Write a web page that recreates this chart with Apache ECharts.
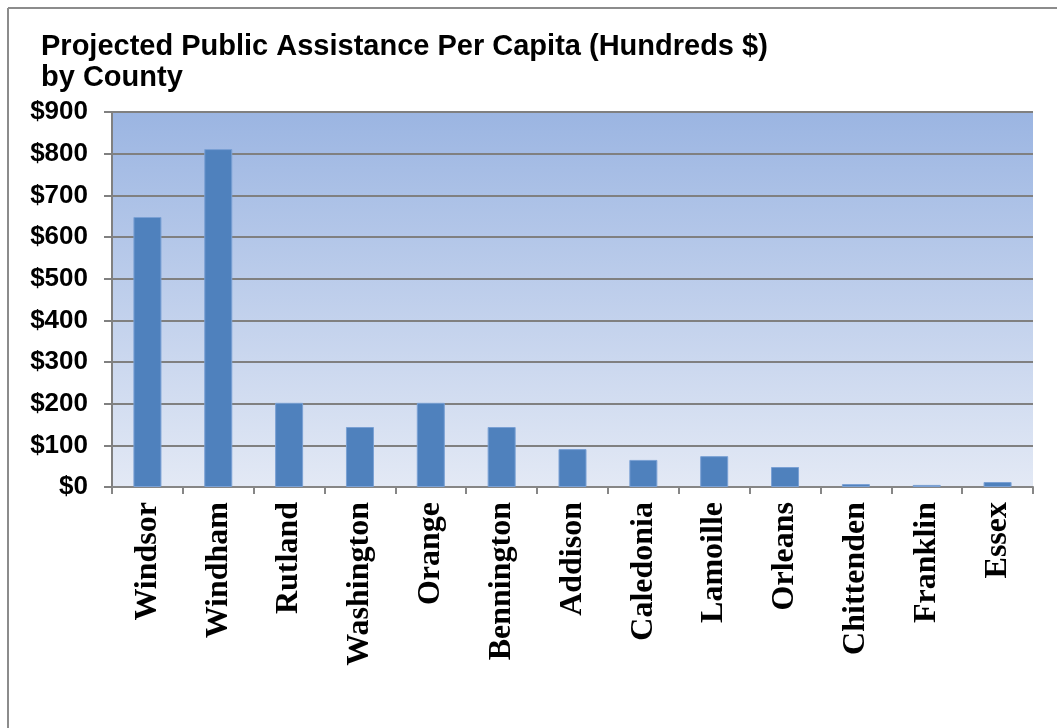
<!DOCTYPE html>
<html>
<head>
<meta charset="utf-8">
<script src="https://cdn.jsdelivr.net/npm/echarts@6/dist/echarts.min.js"></script>
<style>
  html, body { margin: 0; padding: 0; background: #fff; }
  #chart { width: 1057px; height: 728px; }
</style>
</head>
<body>
<div id="chart"></div>
<script>
// county names and projected values (hundreds $)
var counties = ['Windsor', 'Windham', 'Rutland', 'Washington', 'Orange', 'Bennington',
  'Addison', 'Caledonia', 'Lamoille', 'Orleans', 'Chittenden', 'Franklin', 'Essex'];
var values = [648, 811, 202, 144, 202, 144, 91, 65, 74, 48, 7, 5, 12];
var yTicks = [0, 100, 200, 300, 400, 500, 600, 700, 800, 900];

var chart = echarts.init(document.getElementById('chart'));

var option = {
  animation: false,
  title: {
    text: 'Projected Public Assistance Per Capita (Hundreds $)\nby County',
    left: 36,
    top: 26,
    textStyle: {
      fontFamily: 'Liberation Sans, Arial',
      fontWeight: 'bold',
      fontSize: 29,
      lineHeight: 31,
      color: '#000'
    }
  },
  graphic: [
    { type: 'line', shape: { x1: 8, y1: 8, x2: 1057, y2: 8 }, style: { stroke: '#8c8c8c', lineWidth: 2 } },
    { type: 'line', shape: { x1: 8, y1: 8, x2: 8, y2: 728 }, style: { stroke: '#8c8c8c', lineWidth: 2 } }
  ],
  grid: {
    left: 112,
    right: 24,
    top: 112,
    bottom: 241,
    show: true,
    borderWidth: 0,
    backgroundColor: new echarts.graphic.LinearGradient(0, 0, 0, 1, [
      { offset: 0, color: '#9bb5e2' },
      { offset: 1, color: '#e3e9f5' }
    ])
  },
  xAxis: {
    type: 'category',
    data: counties,
    axisLine: { lineStyle: { color: '#868686', width: 2 } },
    axisTick: { show: true, length: 7, lineStyle: { color: '#868686', width: 2 } },
    axisLabel: {
      rotate: 90,
      margin: 15,
      interval: 0,
      fontFamily: 'Liberation Serif, Times New Roman',
      fontWeight: 'bold',
      fontSize: 32,
      color: '#000'
    }
  },
  yAxis: {
    type: 'value',
    min: 0,
    max: 900,
    interval: 100,
    axisLine: { show: true, lineStyle: { color: '#808080', width: 2 } },
    axisTick: { show: true, length: 8, lineStyle: { color: '#808080', width: 2 } },
    splitLine: { lineStyle: { color: '#808080', width: 2 } },
    axisLabel: {
      margin: 24,
      fontFamily: 'Liberation Sans, Arial',
      fontWeight: 'bold',
      fontSize: 26,
      color: '#000',
      formatter: function (v) {
        return yTicks.indexOf(v) >= 0 ? '$' + v : '';
      }
    }
  },
  series: [{
    type: 'bar',
    data: values,
    barWidth: 28,
    itemStyle: {
      color: '#4f81bd',
      borderColor: '#7aa0d4',
      borderWidth: 1
    }
  }]
};

chart.setOption(option);
</script>
</body>
</html>
